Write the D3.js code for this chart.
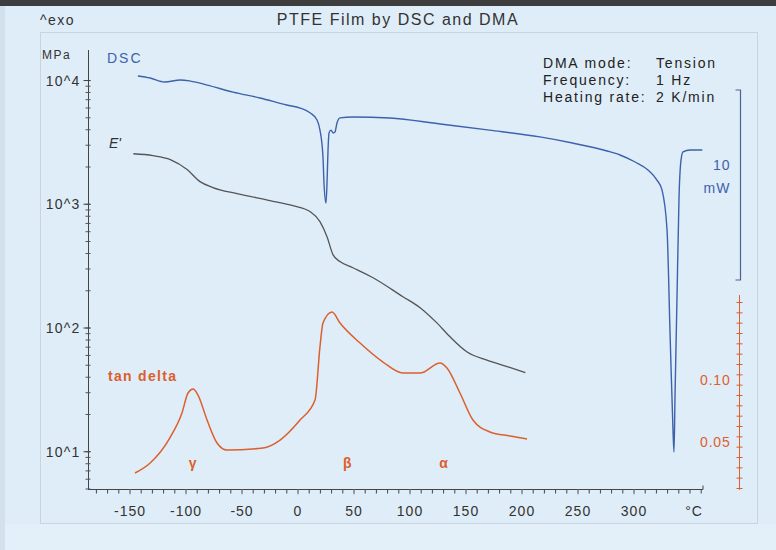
<!DOCTYPE html>
<html>
<head>
<meta charset="utf-8">
<script src="https://cdn.jsdelivr.net/npm/d3@7"></script>
<style>
  body { margin: 0; background: #dfedf8; }
  svg { display: block; font-family: "Liberation Sans", Arial, sans-serif; }
</style>
</head>
<body>
<div id="chart"></div>
<script>
// DSC curve (heat flow, mW, arbitrary offset)
const dscTemp = [-143, -132, -119, -105, -96, -81, -58, -34, -10, 2, 11, 17, 19.6, 22.3, 23.2, 25, 25.9, 26.8, 27.7, 29.5, 31.3, 33, 34.8, 37.5, 49, 82, 127, 171, 216, 245, 276, 287.5, 301, 312.5, 320.5, 325, 329.5, 332.1, 334.8, 335.7, 336.6, 338.4, 340.2, 342, 343.8, 350, 361];
const dscMw   = [10.74, 10.63, 10.42, 10.53, 10.47, 10.26, 9.89, 9.58, 9.21, 9.05, 8.79, 8.42, 7.89, 6.47, 5.11, 4.05, 5.11, 6.84, 7.74, 7.89, 7.74, 7.79, 8.26, 8.53, 8.58, 8.53, 8.21, 7.89, 7.53, 7.21, 6.79, 6.58, 6.21, 5.79, 5.26, 4.74, 2.63, -2.63, -7.89, -9.05, -6.16, -0.89, 4.37, 6.32, 6.74, 6.84, 6.84];

// storage modulus E' (MPa)
const eTemp    = [-147, -129.5, -114, -99, -87.5, -76, -54.5, -25, -4.5, 10.7, 19.6, 25.9, 31.2, 37.5, 49, 67, 93.7, 109, 124, 135.7, 151, 168.7, 189, 203];
const eModulus = [2560, 2473, 2296, 1906, 1524, 1364, 1219, 1071, 975, 873, 724, 547, 392, 344, 307, 255, 179, 146, 110, 85, 64, 55, 48, 43.6];

// tan delta
const tanTemp  = [-145.5, -132, -114, -103.6, -98.2, -93.7, -89.3, -81.2, -72.3, -63.4, -31.2, -16, 1.8, 15.2, 19.6, 22.3, 30.4, 37.5, 55.4, 75.9, 93.7, 108.9, 126.8, 133, 144.6, 156.2, 171.4, 189.3, 204.5];
const tanDelta = [0.025, 0.0331, 0.054, 0.0734, 0.0895, 0.0927, 0.0879, 0.0677, 0.0492, 0.0435, 0.0452, 0.0516, 0.0677, 0.0839, 0.1266, 0.146, 0.1548, 0.146, 0.1298, 0.1145, 0.1056, 0.1056, 0.1137, 0.1097, 0.0895, 0.0677, 0.0581, 0.0548, 0.0524];

const xTickLabels   = [-150, -100, -50, 0, 50, 100, 150, 200, 250, 300];
const yTickLabels   = [10, 100, 1000, 10000];
const tanTickLabels = [0.05, 0.10];
const peakLabels    = [{t: -94, s: "γ"}, {t: 44, s: "β"}, {t: 130, s: "α"}];
const infoLines     = [["DMA mode:", "Tension"], ["Frequency:", "1 Hz"], ["Heating rate:", "2 K/min"]];

const W = 776, H = 550;
const blue = "#3d62ab", orange = "#dc5f2c", gray = "#555";

const svg = d3.select("#chart").append("svg")
    .attr("width", W)
    .attr("height", H);

// background and frame
svg.append("rect").attr("width", W).attr("height", H).attr("fill", "#dfedf8");
svg.append("rect").attr("x", 0).attr("y", 524).attr("width", W).attr("height", H - 524).attr("fill", "#e4f0f9");
svg.append("rect").attr("width", W).attr("height", 6).attr("fill", "#3e3e3e");
svg.append("rect").attr("x", 0).attr("y", 6).attr("width", 5).attr("height", H - 6).attr("fill", "#d3e1ec");
svg.append("rect").attr("x", 40.5).attr("y", 32.5).attr("width", 717).attr("height", 491)
    .attr("fill", "none").attr("stroke", "#c7d5e0");

// scales
let x = d3.scaleLinear().domain([-187.5, 361.6]).range([88, 703]);
let yE = d3.scaleLog().domain([5, 17000]).range([489, 52]);
let yTan = d3.scaleLinear().domain([0.05, 0.10]).range([442, 380]);
let yDsc = d3.scaleLinear().domain([0, 10]).range([280, 90]);

// title
svg.append("text").attr("x", 398).attr("y", 25).attr("text-anchor", "middle")
    .attr("font-size", 16).attr("letter-spacing", 1.5).attr("fill", "#333").text("PTFE Film by DSC and DMA");
svg.append("text").attr("x", 40).attr("y", 25).attr("font-size", 14).attr("letter-spacing", 1.5)
    .attr("fill", "#333").text("^exo");
svg.append("text").attr("x", 42).attr("y", 59).attr("font-size", 12).attr("letter-spacing", 1.5)
    .attr("fill", "#333").text("MPa");

// bottom axis
let xAxis = svg.append("g").attr("transform", "translate(0,489.5)");
xAxis.append("line").attr("x1", 88).attr("x2", x.range()[1]).attr("stroke", "#444");
xAxis.selectAll(".minor").data(d3.range(-180, 361, 10)).enter().append("line")
    .attr("x1", d => x(d)).attr("x2", d => x(d)).attr("y1", 0).attr("y2", 4)
    .attr("stroke", "#444");
xAxis.selectAll(".major").data(xTickLabels).enter().append("line")
    .attr("x1", d => x(d)).attr("x2", d => x(d)).attr("y1", 0).attr("y2", 5)
    .attr("stroke", "#999");
xAxis.selectAll(".lbl").data(xTickLabels).enter().append("text")
    .attr("x", d => x(d)).attr("y", 26).attr("text-anchor", "middle")
    .attr("font-size", 14).attr("letter-spacing", 1).attr("fill", "#333").text(d => d);
xAxis.append("line").attr("x1", x.range()[1]).attr("x2", x.range()[1]).attr("y1", 0).attr("y2", -4).attr("stroke", "#444");
xAxis.append("text").attr("x", 694).attr("y", 26).attr("text-anchor", "middle")
    .attr("font-size", 14).attr("letter-spacing", 1).attr("fill", "#333").text("°C");

// left log axis
let yAxis = svg.append("g").attr("transform", "translate(88.5,0)");
yAxis.append("line").attr("y1", yE.range()[1] - 2).attr("y2", 489).attr("stroke", "#444");
let logTicks = [];
[1, 10, 100, 1000, 10000].forEach(dec => d3.range(1, 10).forEach(m => {
    let v = dec * m;
    if (v >= 5 && v <= 17000) logTicks.push(v);
}));
yAxis.selectAll(".minor").data(logTicks).enter().append("line")
    .attr("x1", -3).attr("x2", 2).attr("y1", d => yE(d)).attr("y2", d => yE(d))
    .attr("stroke", "#555");
yAxis.selectAll(".major").data(yTickLabels).enter().append("line")
    .attr("x1", -5).attr("x2", 2).attr("y1", d => yE(d)).attr("y2", d => yE(d))
    .attr("stroke", "#444");
yAxis.selectAll(".lbl").data(yTickLabels).enter().append("text")
    .attr("x", -8).attr("y", d => yE(d) + 5).attr("text-anchor", "end")
    .attr("font-size", 14).attr("letter-spacing", 1.2).attr("fill", "#333").text(d => "10^" + Math.round(Math.log10(d)));

// right tan delta axis
let tanAxis = svg.append("g").attr("transform", "translate(739.5,0)");
tanAxis.append("line").attr("y1", yTan(0.1685)).attr("y2", yTan(0.0115)).attr("stroke", orange);
tanAxis.selectAll(".minor").data(d3.range(0, 19).map(i => 0.0125 + i * 0.05 / 6)).enter().append("line")
    .attr("x1", -3).attr("x2", 3).attr("y1", d => yTan(d)).attr("y2", d => yTan(d))
    .attr("stroke", orange);
tanAxis.selectAll(".lbl").data(tanTickLabels).enter().append("text")
    .attr("x", -9).attr("y", d => yTan(d) + 5).attr("text-anchor", "end")
    .attr("font-size", 14).attr("letter-spacing", 0.8).attr("fill", orange).text(d => d3.format(".2f")(d));

// DSC scale bar (10 mW)
let bar = svg.append("g").attr("transform", "translate(740.5,0)");
bar.append("path")
    .attr("d", `M-5,${yDsc(10)}H0V${yDsc(0)}H-5`)
    .attr("fill", "none").attr("stroke", "#4a6290").attr("stroke-width", 1.2);
bar.append("text").attr("x", -10).attr("y", yDsc(5.8)).attr("text-anchor", "end")
    .attr("font-size", 14).attr("letter-spacing", 1).attr("fill", blue).text("10");
bar.append("text").attr("x", -10).attr("y", yDsc(4.6)).attr("text-anchor", "end")
    .attr("font-size", 14).attr("letter-spacing", 1).attr("fill", blue).text("mW");

// curves
let dscLine = d3.line().x(d => x(d[0])).y(d => yDsc(d[1])).curve(d3.curveMonotoneX);
let eLine = d3.line().x(d => x(d[0])).y(d => yE(d[1])).curve(d3.curveMonotoneX);
let tanLine = d3.line().x(d => x(d[0])).y(d => yTan(d[1])).curve(d3.curveMonotoneX);

svg.append("path").datum(d3.zip(eTemp, eModulus)).attr("d", eLine)
    .attr("fill", "none").attr("stroke", gray).attr("stroke-width", 1.3);
svg.append("path").datum(d3.zip(tanTemp, tanDelta)).attr("d", tanLine)
    .attr("fill", "none").attr("stroke", orange).attr("stroke-width", 1.5);
svg.append("path").datum(d3.zip(dscTemp, dscMw)).attr("d", dscLine)
    .attr("fill", "none").attr("stroke", blue).attr("stroke-width", 1.4);

// curve labels
svg.append("text").attr("x", 107).attr("y", 63).attr("font-size", 14).attr("letter-spacing", 2)
    .attr("fill", blue).text("DSC");
svg.append("text").attr("x", 109).attr("y", 148).attr("font-size", 14).attr("font-style", "italic")
    .attr("fill", "#333").text("E'");
svg.append("text").attr("x", 108).attr("y", 381).attr("font-size", 14).attr("font-weight", "bold")
    .attr("letter-spacing", 1.3).attr("fill", orange).text("tan delta");
svg.selectAll(".peak").data(peakLabels).enter().append("text")
    .attr("x", d => x(d.t)).attr("y", 468).attr("text-anchor", "middle")
    .attr("font-size", 14).attr("font-weight", "bold").attr("fill", orange).text(d => d.s);

// measurement info
let info = svg.append("g").attr("font-size", 14).attr("letter-spacing", 1.8).attr("fill", "#222");
info.selectAll(".k").data(infoLines).enter().append("text")
    .attr("x", 543).attr("y", (d, i) => 68 + i * 17).text(d => d[0]);
info.selectAll(".v").data(infoLines).enter().append("text")
    .attr("x", 656).attr("y", (d, i) => 68 + i * 17).text(d => d[1]);
</script>
</body>
</html>
